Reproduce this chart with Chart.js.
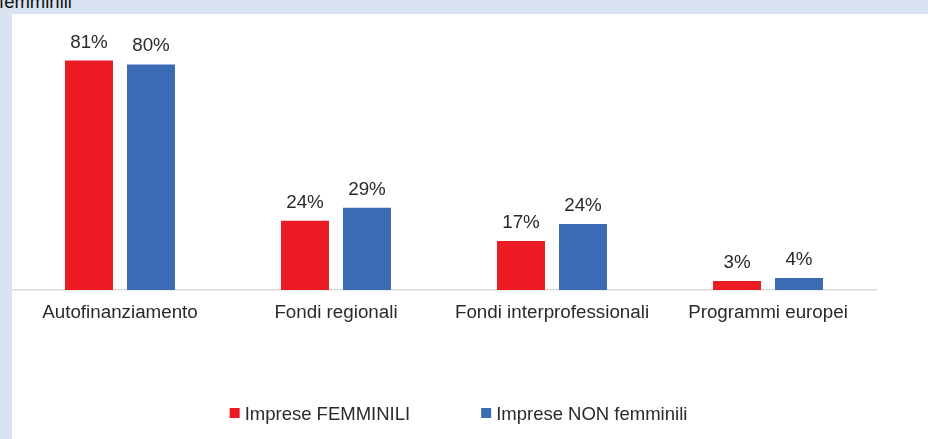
<!DOCTYPE html>
<html>
<head>
<meta charset="utf-8">
<script src="https://cdn.jsdelivr.net/npm/chart.js@4/dist/chart.umd.min.js"></script>
<style>
  html, body { margin: 0; padding: 0; }
  body { width: 928px; height: 439px; background: #DAE3F1; position: relative; overflow: hidden; font-family: "Liberation Sans", Arial, sans-serif; }
  #panel { position: absolute; left: 12px; top: 14px; width: 916px; height: 425px; background: #ffffff; }
  #title { position: absolute; left: -1px; top: -7px; font-size: 18.5px; line-height: 18.5px; color: #111; white-space: nowrap; }
  #wrap { position: absolute; left: 0; top: 0; width: 928px; height: 439px; }
</style>
</head>
<body>
<div id="panel"></div>
<div id="title">femminili</div>
<div id="wrap"><canvas id="c" width="928" height="439"></canvas></div>
<script>
const categories = ["Autofinanziamento", "Fondi regionali", "Fondi interprofessionali", "Programmi europei"];
const seriesNames = ["Imprese FEMMINILI", "Imprese NON femminili"];
const femminili = [81, 24.4, 17.3, 3.2];
const nonFemminili = [79.6, 29, 23.3, 4.2];
const femminiliLabels = ["81%", "24%", "17%", "3%"];
const nonFemminiliLabels = ["80%", "29%", "24%", "4%"];

const FONT = '"Liberation Sans", Arial, sans-serif';
const TEXT = '#2a2a2a';
const FS = 18.8;

const dataLabels = {
  id: 'dataLabels',
  afterDatasetsDraw(chart) {
    const ctx = chart.ctx;
    ctx.save();
    ctx.font = FS + 'px ' + FONT;
    ctx.fillStyle = TEXT;
    ctx.textAlign = 'center';
    ctx.textBaseline = 'alphabetic';
    chart.data.datasets.forEach((ds, i) => {
      const meta = chart.getDatasetMeta(i);
      meta.data.forEach((bar, j) => {
        ctx.fillText(ds.valueLabels[j], bar.x, bar.y - 13);
      });
    });
    ctx.restore();
  }
};

const customLegend = {
  id: 'customLegend',
  afterDraw(chart) {
    const ctx = chart.ctx;
    ctx.save();
    ctx.font = '18.5px ' + FONT;
    ctx.textBaseline = 'alphabetic';
    ctx.textAlign = 'left';
    const box = 10, gap = 5, spacing = 71;
    const items = chart.data.datasets.map(ds => ({ label: ds.label, color: ds.backgroundColor, w: box + gap + ctx.measureText(ds.label).width }));
    const total = items.reduce((s, it) => s + it.w, 0) + spacing * (items.length - 1);
    let x = 458.5 - total / 2;
    const baseline = 420;
    items.forEach(it => {
      ctx.fillStyle = it.color;
      ctx.fillRect(x, baseline - 12, box, box);
      ctx.fillStyle = TEXT;
      ctx.fillText(it.label, x + box + gap, baseline);
      x += it.w + spacing;
    });
    ctx.restore();
  }
};

new Chart(document.getElementById('c'), {
  type: 'bar',
  data: {
    labels: categories,
    datasets: [
      { label: seriesNames[0], data: femminili, valueLabels: femminiliLabels, backgroundColor: '#ED1C24', categoryPercentage: 0.574, barPercentage: 0.774 },
      { label: seriesNames[1], data: nonFemminili, valueLabels: nonFemminiliLabels, backgroundColor: '#3B6BB5', categoryPercentage: 0.574, barPercentage: 0.774 }
    ]
  },
  options: {
    responsive: false,
    animation: false,
    layout: { padding: { left: 12, right: 52, top: 35, bottom: 109 } },
    plugins: { legend: { display: false }, tooltip: { enabled: false } },
    scales: {
      y: { display: false, min: 0, max: 90 },
      x: {
        grid: { display: false, drawTicks: false },
        border: { display: true, color: '#D9D9D9', width: 1.5 },
        ticks: { color: TEXT, font: { family: FONT, size: FS }, padding: 11.5, maxRotation: 0, autoSkip: false },
        afterFit(scale) { scale.height = 40; }
      }
    }
  },
  plugins: [dataLabels, customLegend]
});
</script>
</body>
</html>
